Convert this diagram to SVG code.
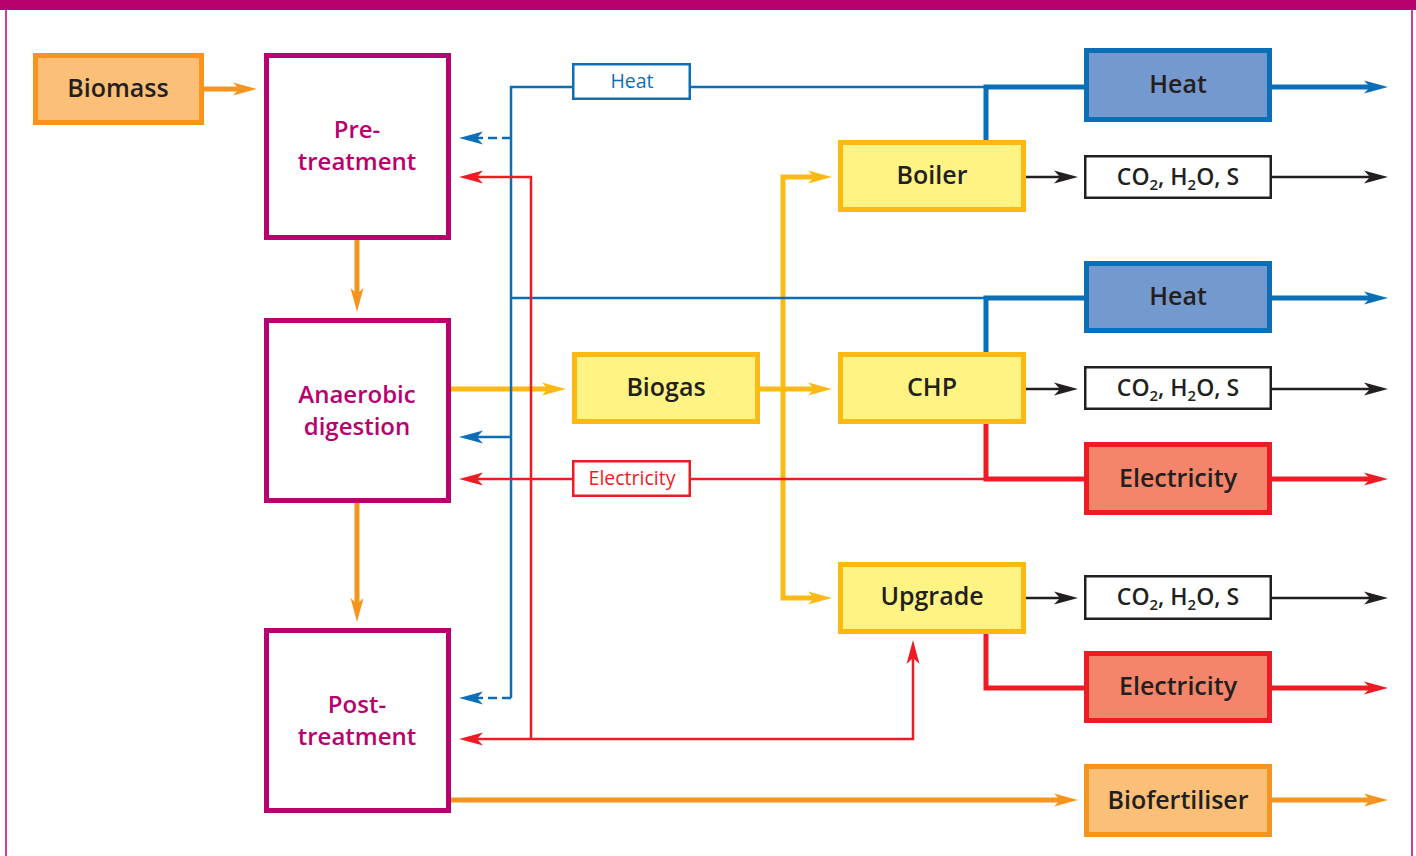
<svg xmlns="http://www.w3.org/2000/svg" width="1416" height="856" viewBox="0 0 1416 856">
<style>
text{font-family:"Open Sans","Noto Sans","DejaVu Sans",sans-serif;font-weight:600;text-anchor:middle}
.t{font-size:25px;fill:#231F20}
.m{font-size:24px;fill:#B8006E}
.co{font-size:23px;fill:#231F20}
.sub{font-size:15px}
.s{font-size:19.5px;font-weight:500}
.n-mag{fill:#fff;stroke:#B8006E;stroke-width:5}
.n-org{fill:#FBBF77;stroke:#F7941D;stroke-width:5}
.n-yel{fill:#FFF383;stroke:#FDB913;stroke-width:5}
.n-blu{fill:#7399CF;stroke:#0B6FB8;stroke-width:5}
.n-red{fill:#F4846A;stroke:#ED1C24;stroke-width:5}
.n-co{fill:#fff;stroke:#231F20;stroke-width:2.5}
.lbl-b{fill:#fff;stroke:#0B6FB8;stroke-width:2.5}
.lbl-r{fill:#fff;stroke:#ED1C24;stroke-width:2.5}
.c{fill:none;stroke-linejoin:miter}
.org{stroke:#F7941D;stroke-width:5}
.yel{stroke:#FDB913;stroke-width:5}
.bT{stroke:#0B6FB8;stroke-width:5}
.bt{stroke:#0B6FB8;stroke-width:2.5}
.rT{stroke:#ED1C24;stroke-width:5}
.rt{stroke:#ED1C24;stroke-width:2.5}
.k{stroke:#231F20;stroke-width:2.5}
.dash{stroke-dasharray:9 5}
</style>
<defs>
<marker id="aO" markerUnits="userSpaceOnUse" markerWidth="24" markerHeight="14" refX="8" refY="7" orient="auto"><path d="M0,0.5 L24,7 L0,13.5 L6,7 z" fill="#F7941D"/></marker>
<marker id="aY" markerUnits="userSpaceOnUse" markerWidth="24" markerHeight="14" refX="8" refY="7" orient="auto"><path d="M0,0.5 L24,7 L0,13.5 L6,7 z" fill="#FDB913"/></marker>
<marker id="aB" markerUnits="userSpaceOnUse" markerWidth="24" markerHeight="14" refX="8" refY="7" orient="auto"><path d="M0,0.5 L24,7 L0,13.5 L6,7 z" fill="#0B6FB8"/></marker>
<marker id="aR" markerUnits="userSpaceOnUse" markerWidth="24" markerHeight="14" refX="8" refY="7" orient="auto"><path d="M0,0.5 L24,7 L0,13.5 L6,7 z" fill="#ED1C24"/></marker>
<marker id="aK" markerUnits="userSpaceOnUse" markerWidth="24" markerHeight="14" refX="8" refY="7" orient="auto"><path d="M0,0.5 L24,7 L0,13.5 L6,7 z" fill="#231F20"/></marker>
</defs>
<rect width="1416" height="856" fill="#fff"/>
<g id="frame">
<rect x="0" y="0" width="1416" height="10" fill="#B8006E"/>
<line x1="6" y1="10" x2="6" y2="856" stroke="#B8006E" stroke-width="1.5"/>
<line x1="1412" y1="10" x2="1412" y2="856" stroke="#B8006E" stroke-width="1.5"/>
</g>
<g id="connectors" class="c">
<path class="c org" d="M204,89 H241" marker-end="url(#aO)"/>
<path class="c org" d="M357,240 V296" marker-end="url(#aO)"/>
<path class="c org" d="M357,503 V606" marker-end="url(#aO)"/>
<path class="c org" d="M451,800 H1062" marker-end="url(#aO)"/>
<path class="c org" d="M1271,800 H1372" marker-end="url(#aO)"/>
<path class="c yel" d="M451,389 H550" marker-end="url(#aY)"/>
<path class="c yel" d="M760,389 H816" marker-end="url(#aY)"/>
<path class="c yel" d="M783,391 V177 H816" marker-end="url(#aY)"/>
<path class="c yel" d="M783,387 V598 H816" marker-end="url(#aY)"/>
<path class="c bt" d="M986,87 H691"/>
<path class="c bt" d="M572,87 H511 V698"/>
<path class="c bt" d="M511,298 H986"/>
<path class="c bt dash" d="M511,138 H475" marker-end="url(#aB)"/>
<path class="c bt dash" d="M511,698 H475" marker-end="url(#aB)"/>
<path class="c bt" d="M511,437 H475" marker-end="url(#aB)"/>
<path class="c bT" d="M986,140 V87 H1084"/>
<path class="c bT" d="M1271,87 H1372" marker-end="url(#aB)"/>
<path class="c bT" d="M986,352 V298 H1084"/>
<path class="c bT" d="M1271,298 H1372" marker-end="url(#aB)"/>
<path class="c rt" d="M986,479 H691"/>
<path class="c rt" d="M572,479 H475" marker-end="url(#aR)"/>
<path class="c rt" d="M531,739 V177 H475" marker-end="url(#aR)"/>
<path class="c rt" d="M531,739 H913 V656" marker-end="url(#aR)"/>
<path class="c rt" d="M531,739 H475" marker-end="url(#aR)"/>
<path class="c rT" d="M986,424 V479 H1084"/>
<path class="c rT" d="M1271,479 H1372" marker-end="url(#aR)"/>
<path class="c rT" d="M986,634 V688 H1084"/>
<path class="c rT" d="M1271,688 H1372" marker-end="url(#aR)"/>
<path class="c k" d="M1026,177 H1062" marker-end="url(#aK)"/>
<path class="c k" d="M1272,177 H1372" marker-end="url(#aK)"/>
<path class="c k" d="M1026,389 H1062" marker-end="url(#aK)"/>
<path class="c k" d="M1272,389 H1372" marker-end="url(#aK)"/>
<path class="c k" d="M1026,598 H1062" marker-end="url(#aK)"/>
<path class="c k" d="M1272,598 H1372" marker-end="url(#aK)"/>
</g>
<g id="biomass"><rect class="n-org" x="35.5" y="55.5" width="166" height="67"/><text class="t" x="118" y="97">Biomass</text></g>
<g id="pretreatment"><rect class="n-mag" x="266.5" y="55.5" width="182" height="182"/><text class="m" x="357" y="138">Pre-</text><text class="m" x="357" y="170">treatment</text></g>
<g id="anaerobic"><rect class="n-mag" x="266.5" y="320.5" width="182" height="180"/><text class="m" x="357" y="403">Anaerobic</text><text class="m" x="357" y="435">digestion</text></g>
<g id="posttreatment"><rect class="n-mag" x="266.5" y="630.5" width="182" height="180"/><text class="m" x="357" y="713">Post-</text><text class="m" x="357" y="745">treatment</text></g>
<g id="heat-label"><rect class="lbl-b" x="573.25" y="64.25" width="116.5" height="34.5"/><text class="s" x="632" y="88" fill="#0B6FB8">Heat</text></g>
<g id="electricity-label"><rect class="lbl-r" x="573.25" y="461.25" width="116.5" height="34.5"/><text class="s" x="632" y="485" fill="#ED1C24">Electricity</text></g>
<g id="biogas"><rect class="n-yel" x="574.5" y="354.5" width="183" height="67"/><text class="t" x="666" y="396">Biogas</text></g>
<g id="boiler"><rect class="n-yel" x="840.5" y="142.5" width="183" height="67"/><text class="t" x="932" y="184">Boiler</text></g>
<g id="chp"><rect class="n-yel" x="840.5" y="354.5" width="183" height="67"/><text class="t" x="932" y="396">CHP</text></g>
<g id="upgrade"><rect class="n-yel" x="840.5" y="564.5" width="183" height="67"/><text class="t" x="932" y="605">Upgrade</text></g>
<g id="heat1"><rect class="n-blu" x="1086.5" y="50.5" width="183" height="69"/><text class="t" x="1178" y="93">Heat</text></g>
<g id="co2-1"><rect class="n-co" x="1085.25" y="156.25" width="185.5" height="41.5"/><text class="co" x="1178" y="185">CO<tspan class="sub" dy="5">2</tspan><tspan dy="-5">, H</tspan><tspan class="sub" dy="5">2</tspan><tspan dy="-5">O, S</tspan></text></g>
<g id="heat2"><rect class="n-blu" x="1086.5" y="263.5" width="183" height="67"/><text class="t" x="1178" y="305">Heat</text></g>
<g id="co2-2"><rect class="n-co" x="1085.25" y="367.25" width="185.5" height="41.5"/><text class="co" x="1178" y="396">CO<tspan class="sub" dy="5">2</tspan><tspan dy="-5">, H</tspan><tspan class="sub" dy="5">2</tspan><tspan dy="-5">O, S</tspan></text></g>
<g id="electricity1"><rect class="n-red" x="1086.5" y="444.5" width="183" height="68"/><text class="t" x="1178" y="487">Electricity</text></g>
<g id="co2-3"><rect class="n-co" x="1085.25" y="576.25" width="185.5" height="42.5"/><text class="co" x="1178" y="605">CO<tspan class="sub" dy="5">2</tspan><tspan dy="-5">, H</tspan><tspan class="sub" dy="5">2</tspan><tspan dy="-5">O, S</tspan></text></g>
<g id="electricity2"><rect class="n-red" x="1086.5" y="653.5" width="183" height="67"/><text class="t" x="1178" y="695">Electricity</text></g>
<g id="biofertiliser"><rect class="n-org" x="1086.5" y="766.5" width="183" height="68"/><text class="t" x="1178" y="809">Biofertiliser</text></g>
</svg>
